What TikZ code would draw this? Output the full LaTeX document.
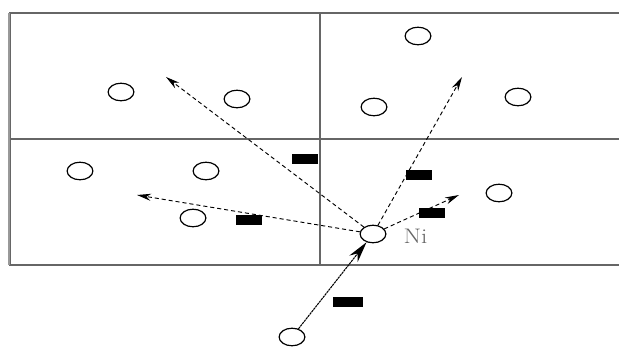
\documentclass[tikz,border=0pt]{standalone}
\usetikzlibrary{arrows.meta,shapes.geometric}
\begin{document}
\begin{tikzpicture}[
    x=0.03cm, y=-0.03cm,
    line width=0.8pt,
    atom/.style={draw, ellipse, line width=1pt, minimum width=22pt, minimum height=15pt, inner sep=0pt},
    bar/.style={fill=black, minimum width=23pt, minimum height=8.5pt, inner sep=0pt},
    kick/.style={dash pattern=on 3.5pt off 2.5pt, -{Stealth[length=12pt,width=6pt]}},
    wall/.style={black!60, line width=1.2pt}
  ]
    \useasboundingbox (0,0) rectangle (619,349);

    % 1. Cells
    \draw[wall] (619,13) -- (10,13) -- (10,265) -- (619,265);
    \draw[black!40, line width=2.5pt] (9,13) -- (9,265);
    \draw[wall] (320,13) -- (320,265);
    \draw[wall] (10,139) -- (619,139);

    % 2. Atoms
    \node[atom] (a1) at (121,92) {};
    \node[atom] (a2) at (237,99) {};
    \node[atom] (a3) at (418,36) {};
    \node[atom] (a4) at (374,107) {};
    \node[atom] (a5) at (518,97) {};
    \node[atom] (a6) at (80,171) {};
    \node[atom] (a7) at (206,171) {};
    \node[atom] (a8) at (193,218) {};
    \node[atom] (a9) at (499,193) {};
    \node[atom] (ni) at (373,234) {};
    \node[atom] (src) at (292,337) {};
    \node[black!60, font=\fontsize{18}{20}\selectfont, anchor=west, inner sep=0pt, xscale=1.2] (nilabel) at (403,236) {Ni};

    % 3. Free ends
    \coordinate (t1) at (166,77);
    \coordinate (t2) at (137,195);
    \coordinate (t3) at (462,77);
    \coordinate (t4) at (459,195);

    % 4. Arrows
    \draw[kick] (ni) -- (t1);
    \draw[kick] (ni) -- (t2);
    \draw[kick] (ni) -- (t3);
    \draw[kick] (ni) -- (t4);
    \draw[line width=0.9pt, dash pattern=on 2pt off 0.6pt, -{Stealth[length=18pt,width=9pt]}] (src) -- (ni);

    % 5. Bars
    \node[bar] (b1) at (305,159) {};
    \node[bar] (b2) at (249,220) {};
    \node[bar] (b3) at (419,175) {};
    \node[bar] (b4) at (432,213) {};
    \node[bar, minimum width=25pt] (b5) at (348,302) {};

  \end{tikzpicture}
\end{document}
